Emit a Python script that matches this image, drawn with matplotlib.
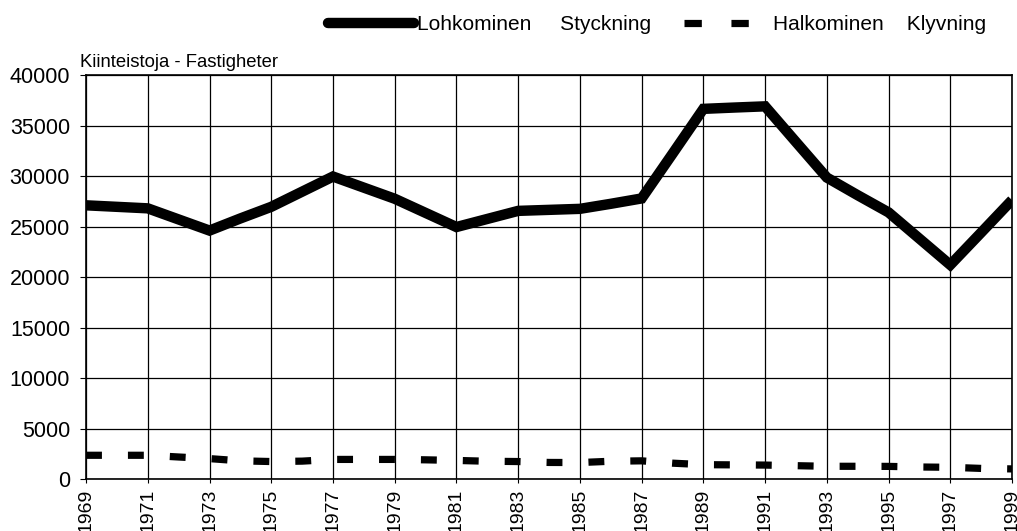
import numpy as np
import matplotlib
matplotlib.use('Agg')
import matplotlib.pyplot as plt
from matplotlib.lines import Line2D

plt.rcParams['font.family'] = ['Liberation Sans', 'DejaVu Sans']

# Data
years = list(range(1969, 2000))
lohkominen = [27100, 26950, 26800, 25700, 24600, 25800, 26950, 28450, 29950, 28850,
              27750, 26350, 24950, 25750, 26550, 26650, 26750, 27250, 27780, 32200,
              36650, 36780, 36900, 33370, 29850, 28100, 26400, 23800, 21200, 24400,
              27620]
halkominen = [2350, 2350, 2350, 2180, 2020, 1800, 1730, 1770, 1940, 1940,
              1940, 1900, 1840, 1760, 1730, 1640, 1630, 1760, 1800, 1570,
              1420, 1400, 1380, 1320, 1260, 1260, 1250, 1190, 1160, 1050,
              1000]
label_solid = 'Lohkominen     Styckning'
label_dash = 'Halkominen    Klyvning'
y_title = 'Kiinteistoja - Fastigheter'

fig = plt.figure(figsize=(10.17, 5.31), dpi=100)
ax = fig.add_axes([0.0846, 0.0979, 0.9105, 0.7608])

ax.plot(years, lohkominen, color='black', lw=7.5, solid_joinstyle='miter',
        solid_capstyle='butt', zorder=3)
ax.plot(years, halkominen, color='black', lw=5.2, linestyle=(0, (2.2, 3.6)),
        dash_capstyle='butt', zorder=3)

ax.set_xlim(1969, 1999)
ax.set_ylim(0, 40000)
ax.set_xticks(np.arange(1969, 2000, 2))
ax.set_yticks(np.arange(0, 40001, 5000))
ax.tick_params(axis='x', labelrotation=90, labelsize=14, length=3, pad=4, color='black')
ax.tick_params(axis='y', labelsize=15.5, length=4.5, pad=7, color='black')
ax.grid(True, color='black', lw=0.9)
ax.set_axisbelow(True)
for s in ax.spines.values():
    s.set_color('black')
    s.set_linewidth(1.2)

fig.text(80 / 1017, 1 - 67 / 531, y_title, fontsize=13.3, va='baseline', ha='left')

handles = [Line2D([], [], color='black', lw=7.5, solid_capstyle='round'),
           Line2D([], [], color='black', lw=5.2, linestyle=(0, (2.4, 4.1)),
                  dash_capstyle='butt')]
fig.legend(handles, [label_solid, label_dash], ncol=2, frameon=False,
           loc='center right', bbox_to_anchor=(986 / 1017, 1 - 25 / 531),
           fontsize=15, handlelength=4.1, handletextpad=0.15, columnspacing=1.6,
           borderpad=0, borderaxespad=0)

fig.savefig('out.png', dpi=100)
